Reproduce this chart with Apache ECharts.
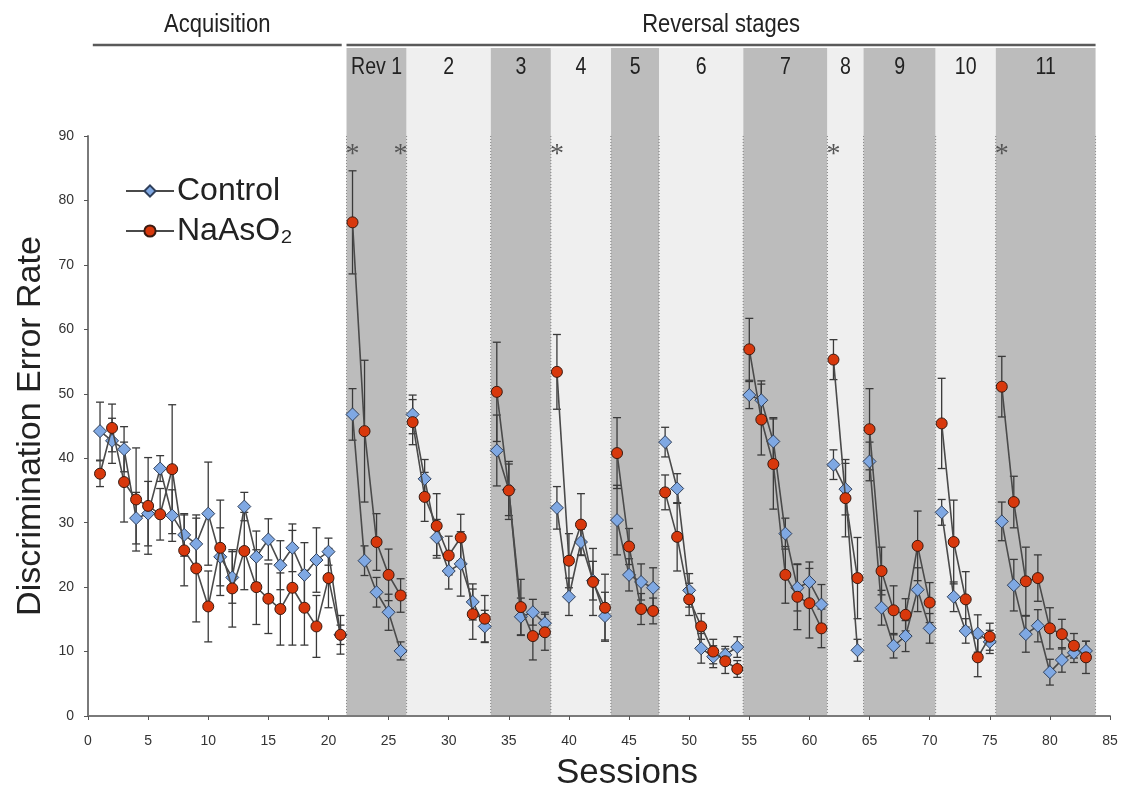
<!DOCTYPE html>
<html>
<head>
<meta charset="utf-8">
<script src="https://cdn.jsdelivr.net/npm/echarts@6/dist/echarts.min.js"></script>
<style>html,body{margin:0;padding:0;background:#fff;}#chart{width:1126px;height:796px;}</style>
</head>
<body>
<div id="chart"></div>
<script>
// Session numbers 1..83
const sessions = [1,2,3,4,5,6,7,8,9,10,11,12,13,14,15,16,17,18,19,20,21,22,23,24,25,26,27,28,29,30,31,32,33,34,35,36,37,38,39,40,41,42,43,44,45,46,47,48,49,50,51,52,53,54,55,56,57,58,59,60,61,62,63,64,65,66,67,68,69,70,71,72,73,74,75,76,77,78,79,80,81,82,83];

const controlMean = [44.2,42.7,41.4,30.7,31.4,38.4,31.1,28.1,26.7,31.4,24.7,21.5,32.5,24.7,27.4,23.4,26.1,21.9,24.2,25.5,12.6,
  46.8,24.1,19.2,16.1,10.1,
  46.8,36.8,27.7,22.5,23.6,17.7,13.9,
  41.2,35.1,15.4,16.1,14.4,
  32.3,18.5,27.0,21.0,15.5,
  30.4,21.9,20.8,19.9,
  42.5,35.3,19.5,10.5,9.2,9.5,10.7,
  49.8,49.0,42.6,28.3,19.9,20.8,17.3,
  39.0,35.2,10.2,
  39.5,16.8,10.9,12.4,19.6,13.6,
  31.6,18.5,13.2,12.8,11.5,
  30.2,20.3,12.7,14.0,6.8,8.7,9.8,10.1];

const controlErr = [4.5,3.5,3.5,4,5,2,4,3.3,4,8,4.5,4,2.2,4,3.2,3.8,3.7,5,5,2.1,1.5,
  4,2.3,2.3,2.8,1.4,
  3,3,2.8,2.8,5,2.8,2.5,
  5.5,4,2.9,2,1.7,
  3.3,2.9,2,3,3.7,
  5.4,2.5,2.8,3.1,
  2.3,2.3,2.6,2.3,1.7,1.3,1.6,
  2.1,3,3.7,2.4,3.6,3.1,3.1,
  2.3,4,1.7,
  3,2.7,1.9,2.4,3.4,2.3,
  2,2.3,1.9,2.9,1.8,
  3,4,2.8,2.5,2,1.9,1.5,1.5];

const naMean = [37.6,44.7,36.3,33.6,32.6,31.3,38.3,25.7,22.9,17.0,26.1,19.8,25.6,20.0,18.2,16.6,19.9,16.8,13.9,21.4,12.6,
  76.6,44.2,27.0,21.9,18.7,
  45.6,34.0,29.5,24.9,27.7,15.8,15.1,
  50.3,35.0,16.9,12.4,13.0,
  53.4,24.1,29.7,20.8,16.8,
  40.8,26.3,16.6,16.3,
  34.7,27.8,18.1,13.9,10.0,8.5,7.3,
  56.9,46.0,39.1,21.9,18.5,17.5,13.6,
  55.3,33.8,21.4,
  44.5,22.5,16.4,15.7,26.4,17.6,
  45.4,27.0,18.1,9.1,12.3,
  51.1,33.2,20.9,21.4,13.6,12.7,10.9,9.1];

const naErr = [2,3.7,6.2,8,7.5,4,10,5.5,8.3,5.5,7.4,6,6,5.8,5.4,5.6,8.9,5.8,4.8,4.6,3,
  8,11,4.4,4,2.6,
  3.5,3.8,5,3,3.6,3.9,3.6,
  7.7,4.5,4.3,3.7,2.8,
  5.8,4.2,4.8,5.2,5.2,
  5.5,2.8,2.4,2,
  2.7,5.3,2.5,2,1.9,1.9,1.3,
  4.8,5.5,7,4.4,5.1,5.4,3,
  3.1,6,6.3,
  6.3,3.7,3.8,2.5,5.4,3.1,
  7,6.5,4.3,3,2.1,
  4.7,4,5.3,3.6,3.2,2.3,1.9,2.5];

// Reversal stage edges (in sessions) and labels
const stageEdges = [21.5,26.5,33.5,38.5,43.5,47.5,54.5,61.5,64.5,70.5,75.5,83.8];
const stageLabels = ['Rev 1','2','3','4','5','6','7','8','9','10','11'];
const stageDark = [true,false,true,false,true,false,true,false,true,false,true];
const asteriskSessions = [22,26,39,62,76];
const phaseHeaders = [
  {name:'Acquisition', from:0.4, to:21.1},
  {name:'Reversal stages', from:21.5, to:83.8}
];
const xTicks = {min:0, max:85, interval:5};
const yTicks = {min:0, max:90, interval:10};

const DARK = '#bcbcbc', LIGHT = '#efefef';
const HEADER_H = 88;
const SANS = '"Liberation Sans",Arial,Helvetica,sans-serif';

function lineData(means){
  const out = [];
  sessions.forEach((s,i)=>{
    if (i>0 && stageEdges.indexOf(s-0.5) >= 0) out.push([s-0.5,'-']);
    out.push([s, means[i]]);
  });
  return out;
}
function errData(means, errs){
  return sessions.map((s,i)=>[s, means[i]-errs[i], means[i]+errs[i]]);
}
function errRender(params, api){
  const x = api.value(0);
  const lo = api.coord([x, api.value(1)]);
  const hi = api.coord([x, api.value(2)]);
  const cw = 4;
  const st = {stroke:'#3a3a3a', lineWidth:1.3};
  return {type:'group', children:[
    {type:'line', shape:{x1:lo[0],y1:lo[1],x2:hi[0],y2:hi[1]}, style:st},
    {type:'line', shape:{x1:lo[0]-cw,y1:lo[1],x2:lo[0]+cw,y2:lo[1]}, style:st},
    {type:'line', shape:{x1:hi[0]-cw,y1:hi[1],x2:hi[0]+cw,y2:hi[1]}, style:st}
  ]};
}
function condensedText(txt, x, y, size, sx){
  return {type:'text', x:x, y:y, scaleX:sx, scaleY:1,
    style:{text:txt, x:0, y:0, align:'center', verticalAlign:'middle', fill:'#222', fontSize:size, fontFamily:SANS}};
}

const bandData = stageLabels.map((l,i)=>[stageEdges[i], stageEdges[i+1], i]);

const chart = echarts.init(document.getElementById('chart'), null, {renderer:'canvas'});
chart.setOption({
  animation:false,
  backgroundColor:'#fff',
  grid:{left:88, right:16, top:136, bottom:78, containLabel:false},
  legend:{
    left:120, top:170, orient:'vertical', itemGap:8,
    itemWidth:48, itemHeight:14,
    textStyle:{fontSize:32, color:'#222', fontFamily:SANS, padding:[0,0,0,-2]},
    data:['Control','NaAsO₂']
  },
  xAxis:{
    type:'value', min:xTicks.min, max:xTicks.max, interval:xTicks.interval,
    name:'Sessions', nameLocation:'middle', nameGap:40,
    nameTextStyle:{fontSize:35, color:'#222', fontFamily:SANS, padding:[0,0,0,56]},
    axisLine:{lineStyle:{color:'#7a7a7a', width:2}},
    axisTick:{show:true, length:4, lineStyle:{color:'#555'}},
    axisLabel:{fontSize:14, color:'#333', margin:18, fontFamily:SANS},
    splitLine:{show:false}
  },
  yAxis:{
    type:'value', min:yTicks.min, max:yTicks.max, interval:yTicks.interval,
    name:'Discrimination Error Rate', nameLocation:'middle', nameGap:40,
    nameTextStyle:{fontSize:34, color:'#222', fontFamily:SANS},
    axisLine:{show:true, lineStyle:{color:'#7a7a7a', width:2}},
    axisTick:{show:true, length:4, lineStyle:{color:'#555'}},
    axisLabel:{fontSize:14, color:'#333', margin:14, fontFamily:SANS},
    splitLine:{show:false}
  },
  series:[
    {
      type:'custom', name:'bands', silent:true, clip:false, z:0,
      data:bandData,
      encode:{x:[0,1]},
      renderItem:function(params, api){
        const a = api.coord([api.value(0), yTicks.min]);
        const b = api.coord([api.value(1), yTicks.max]);
        const idx = api.value(2);
        const top = b[1] - HEADER_H;
        const children = [
          {type:'rect', shape:{x:a[0], y:top, width:b[0]-a[0], height:a[1]-top},
           style:{fill: stageDark[idx] ? DARK : LIGHT}},
          {type:'line', shape:{x1:a[0],y1:b[1],x2:a[0],y2:a[1]}, style:{stroke:'#8a8a8a', lineWidth:1, lineDash:[1,2]}},
          {type:'line', shape:{x1:b[0],y1:b[1],x2:b[0],y2:a[1]}, style:{stroke:'#8a8a8a', lineWidth:1, lineDash:[1,2]}},
          condensedText(stageLabels[idx], (a[0]+b[0])/2, top+20, 23, 0.85)
        ];
        return {type:'group', children:children};
      }
    },
    {
      type:'custom', name:'headers', silent:true, clip:false, z:1,
      data:phaseHeaders.map((h,i)=>[h.from, h.to, i]),
      encode:{x:[0,1]},
      renderItem:function(params, api){
        const a = api.coord([api.value(0), yTicks.max]);
        const b = api.coord([api.value(1), yTicks.max]);
        const y = a[1] - HEADER_H - 3;
        return {type:'group', children:[
          {type:'line', shape:{x1:a[0],y1:y,x2:b[0],y2:y}, style:{stroke:'#5a5a5a', lineWidth:2.5}},
          condensedText(phaseHeaders[api.value(2)].name, (a[0]+b[0])/2, y-20, 25, 0.88)
        ]};
      }
    },
    {
      type:'custom', name:'asterisks', silent:true, clip:false, z:1,
      data:asteriskSessions.map(s=>[s, 88]),
      renderItem:function(params, api){
        const p = api.coord([api.value(0), api.value(1)]);
        return {type:'text', style:{text:'*', x:p[0], y:p[1]+6, align:'center', verticalAlign:'middle',
          fill:'#555', fontSize:28, fontFamily:'"Liberation Serif","DejaVu Serif",serif'}};
      }
    },
    {type:'custom', name:'ctrlErr', silent:true, z:2, data:errData(controlMean, controlErr), encode:{x:0, y:[1,2]}, renderItem:errRender},
    {type:'custom', name:'naErr', silent:true, z:2, data:errData(naMean, naErr), encode:{x:0, y:[1,2]}, renderItem:errRender},
    {
      type:'line', name:'Control', z:3, data:lineData(controlMean), connectNulls:false,
      symbol:'diamond', symbolSize:13, showAllSymbol:true,
      lineStyle:{color:'#4a4a4a', width:1.6},
      itemStyle:{color:'#7fa8e3', borderColor:'#2f3f5a', borderWidth:1}
    },
    {
      type:'line', name:'NaAsO₂', z:4, data:lineData(naMean), connectNulls:false,
      symbol:'circle', symbolSize:11, showAllSymbol:true,
      lineStyle:{color:'#4a4a4a', width:1.6},
      itemStyle:{color:'#d8380c', borderColor:'#3a1a10', borderWidth:1}
    }
  ]
});
</script>
</body>
</html>
